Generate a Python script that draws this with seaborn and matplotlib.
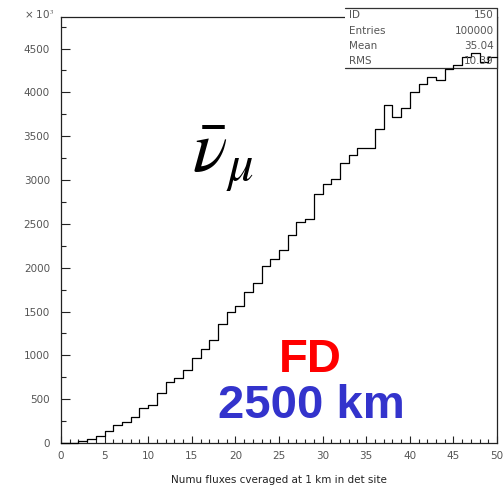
import matplotlib
matplotlib.use("Agg")
import matplotlib.pyplot as plt
import seaborn as sns
import pandas as pd
from matplotlib.patches import Rectangle
from matplotlib.lines import Line2D

# ---- data ----
bin_left = list(range(0, 50))
counts = [0, 0, 28, 43, 75, 142, 205, 239, 292, 402,
          438, 566, 697, 742, 837, 970, 1076, 1170, 1360, 1500,
          1568, 1727, 1826, 2023, 2098, 2201, 2371, 2523, 2560, 2840,
          2950, 3015, 3197, 3284, 3367, 3367, 3587, 3860, 3716, 3822,
          4000, 4095, 4170, 4140, 4270, 4307, 4409, 4447, 4345, 4409]
bin_edges = list(range(0, 51))
x_ticks = list(range(0, 51, 5))
y_ticks = list(range(0, 4501, 500))
stat_names = ["ID", "Entries", "Mean", "RMS"]
stat_values = ["150", "100000", "35.04", "10.39"]
x_title = "Numu fluxes cveraged at 1 km in det site"

sns.set_theme(style="ticks")
plt.rcParams["font.family"] = ["DejaVu Sans"]
plt.rcParams["mathtext.fontset"] = "stix"

W, H = 503, 500
fig = plt.figure(figsize=(W / 100, H / 100), dpi=100)
fig.patch.set_facecolor("white")
ax = fig.add_axes([61 / W, 57 / H, 436 / W, 426 / H])
ax.set_facecolor("white")

df = pd.DataFrame({"x": [b + 0.5 for b in bin_left], "w": counts})
sns.histplot(data=df, x="x", weights="w", bins=bin_edges, element="step",
             fill=False, color="black", linewidth=0.9, ax=ax)
for art in ax.lines + ax.collections + ax.patches:
    art.set_zorder(5)
    art.set_clip_on(False)

ax.set_xlim(0, 50)
ax.set_ylim(0, 4860)
ax.set_xticks(x_ticks)
ax.set_xticks(bin_edges, minor=True)
ax.set_yticks(y_ticks)
ax.set_yticks(list(range(250, 4860, 500)), minor=True)
ax.set_xticklabels([str(v) for v in x_ticks])
ax.set_yticklabels([str(v) for v in y_ticks])
ax.tick_params(axis="x", which="major", direction="in", length=5.2, width=0.8,
               pad=5.5, labelsize=7.5, labelcolor="#555555", color="#222222")
ax.tick_params(axis="x", which="minor", direction="in", length=2.6, width=0.8,
               color="#222222")
ax.tick_params(axis="y", which="major", direction="in", length=6.5, width=0.8,
               pad=8, labelsize=7.5, labelcolor="#555555", color="#222222")
ax.tick_params(axis="y", which="minor", direction="in", length=3.5, width=0.8,
               color="#222222")
for s in ax.spines.values():
    s.set_linewidth(0.9)
    s.set_color("#222222")

ax.set_ylabel("")
ax.set_xlabel(x_title, fontsize=7.5, color="#222222")
ax.xaxis.set_label_coords(0.5, -0.074)

fig.text(54 / W, 1 - 15 / H, r"× 10$^{3}$", fontsize=7.5, color="#555555",
         ha="right", va="center")

# stats box (drawn in figure pixels)
bx0, bx1, by0, by1 = 345, 497, 8, 68
tr = fig.transFigure
ax.add_patch(Rectangle((bx0 / W, 1 - by1 / H), (bx1 - bx0) / W, (by1 - by0) / H,
                       transform=tr, facecolor="white", edgecolor="none",
                       zorder=3, clip_on=False))
for (xa, ya, xb, yb) in [(bx0, by0, bx1, by0), (bx1, by0, bx1, by1), (bx0, by1, bx1, by1)]:
    ax.add_line(Line2D([xa / W, xb / W], [1 - ya / H, 1 - yb / H], transform=tr,
                       color="#333333", linewidth=0.9, zorder=4, clip_on=False))
rows_y = [15, 31, 46, 61]
for name, val, ry in zip(stat_names, stat_values, rows_y):
    fig.text(349 / W, 1 - ry / H, name, fontsize=7.5, color="#555555",
             ha="left", va="center", zorder=4)
    fig.text(494 / W, 1 - ry / H, val, fontsize=7.5, color="#555555",
             ha="right", va="center", zorder=4)

# annotations
fig.text(192 / W, 1 - 172 / H, r"$\bar{\nu}_{\mu}$", fontsize=52, color="black",
         ha="left", va="baseline")
fig.text(310 / W, 1 - 372 / H, "FD", fontsize=34, fontweight="bold",
         family=["Liberation Sans"], color="#ff0000", ha="center", va="baseline")
fig.text(311 / W, 1 - 418 / H, "2500 km", fontsize=34, fontweight="bold",
         family=["Liberation Sans"], color="#3333cc", ha="center", va="baseline")

fig.savefig("out.png", dpi=100, facecolor="white")
